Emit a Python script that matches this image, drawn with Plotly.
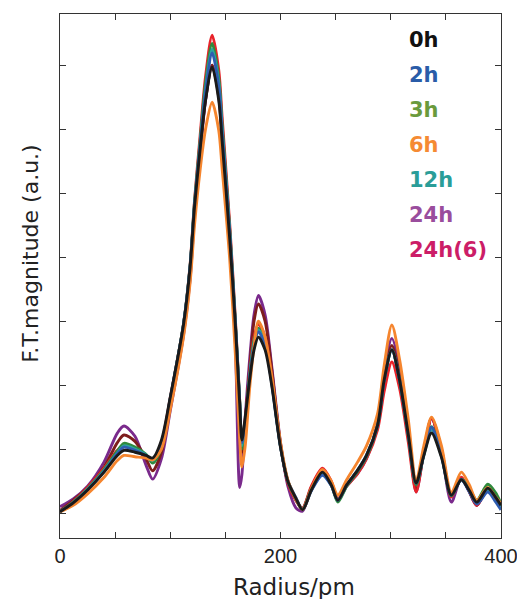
import plotly.graph_objects as go

radius = [0, 12, 25, 40, 52, 58, 68, 78, 84, 92, 100, 112, 118, 122, 127, 132, 138, 144, 147, 154,
          159, 163, 165, 168, 172, 176, 180, 186, 192, 200, 207, 214, 220, 228, 238, 246, 252, 260,
          270, 278, 288, 294, 301, 308, 316, 323, 330, 337, 346, 355, 364, 371, 378, 388, 395, 400]

ft_24h = [0.10, 0.22, 0.42, 0.80, 1.25, 1.36, 1.20, 0.75, 0.53, 0.85, 1.60, 2.78, 3.65, 4.65, 5.60, 6.45, 7.00, 6.55, 5.95, 4.40,
          2.70, 0.40, 0.60, 1.50, 2.40, 3.10, 3.40, 3.10, 2.30, 1.10, 0.40, 0.08, 0.03, 0.40, 0.66, 0.45, 0.20, 0.42,
          0.62, 0.85, 1.40, 2.20, 2.73, 2.30, 1.35, 0.33, 0.95, 1.48, 0.95, 0.17, 0.55, 0.35, 0.12, 0.38, 0.25, 0.12]

ft_24h_b = [0.04, 0.20, 0.40, 0.72, 1.10, 1.22, 1.12, 0.85, 0.66, 0.95, 1.75, 2.92, 3.82, 4.78, 5.68, 6.46, 7.00, 6.50, 5.88, 4.33,
            2.95, 1.55, 0.95, 1.40, 2.25, 3.00, 3.27, 3.00, 2.25, 1.08, 0.46, 0.20, 0.07, 0.40, 0.68, 0.48, 0.22, 0.44,
            0.65, 0.88, 1.36, 2.10, 2.62, 2.15, 1.20, 0.38, 0.95, 1.48, 1.00, 0.26, 0.55, 0.34, 0.12, 0.38, 0.24, 0.14]

ft_24h6 = [0.02, 0.18, 0.40, 0.70, 0.98, 1.06, 1.00, 0.90, 0.84, 1.10, 1.80, 2.95, 3.88, 4.88, 5.88, 6.82, 7.47, 6.92, 6.20, 4.50,
           3.05, 1.75, 1.05, 1.45, 2.20, 2.75, 2.95, 2.75, 2.10, 1.05, 0.45, 0.20, 0.08, 0.42, 0.70, 0.50, 0.22, 0.42,
           0.62, 0.85, 1.30, 1.90, 2.36, 1.95, 1.10, 0.33, 0.95, 1.48, 1.00, 0.25, 0.56, 0.35, 0.12, 0.38, 0.25, 0.15]

ft_3h = [0.02, 0.17, 0.38, 0.68, 0.97, 1.09, 1.03, 0.92, 0.78, 1.02, 1.78, 2.95, 3.86, 4.85, 5.80, 6.72, 7.34, 6.80, 6.08, 4.42,
         3.00, 1.75, 1.00, 1.40, 2.15, 2.70, 2.89, 2.68, 2.08, 1.05, 0.48, 0.22, 0.06, 0.38, 0.62, 0.44, 0.17, 0.42,
         0.65, 0.88, 1.37, 2.08, 2.55, 2.08, 1.20, 0.44, 0.92, 1.35, 0.92, 0.27, 0.53, 0.40, 0.20, 0.45, 0.32, 0.15]

ft_12h = [0.02, 0.16, 0.37, 0.66, 0.94, 1.05, 1.00, 0.91, 0.82, 1.06, 1.78, 2.94, 3.85, 4.82, 5.74, 6.62, 7.25, 6.72, 6.00, 4.38,
          2.98, 1.72, 1.05, 1.38, 2.12, 2.66, 2.86, 2.65, 2.05, 1.04, 0.48, 0.23, 0.05, 0.36, 0.60, 0.44, 0.20, 0.44,
          0.67, 0.90, 1.37, 2.08, 2.55, 2.08, 1.22, 0.46, 0.90, 1.30, 0.89, 0.28, 0.52, 0.36, 0.17, 0.36, 0.22, 0.08]

ft_2h = [0.02, 0.16, 0.36, 0.65, 0.93, 1.03, 0.98, 0.90, 0.84, 1.08, 1.79, 2.94, 3.85, 4.80, 5.72, 6.58, 7.19, 6.66, 5.96, 4.34,
         2.96, 1.72, 1.10, 1.35, 2.10, 2.62, 2.83, 2.63, 2.03, 1.04, 0.49, 0.24, 0.05, 0.35, 0.59, 0.43, 0.20, 0.44,
         0.67, 0.90, 1.37, 2.08, 2.55, 2.08, 1.22, 0.47, 0.92, 1.34, 0.90, 0.28, 0.52, 0.34, 0.14, 0.33, 0.18, 0.05]

ft_6h = [0.02, 0.12, 0.30, 0.56, 0.82, 0.90, 0.88, 0.86, 0.83, 1.00, 1.62, 2.75, 3.60, 4.50, 5.35, 6.00, 6.42, 5.98, 5.40, 3.95,
         2.50, 1.15, 0.72, 1.05, 1.95, 2.60, 3.00, 2.75, 2.15, 1.10, 0.50, 0.22, 0.05, 0.38, 0.68, 0.50, 0.28, 0.52,
         0.80, 1.05, 1.55, 2.30, 2.94, 2.40, 1.45, 0.50, 1.05, 1.50, 1.05, 0.32, 0.64, 0.45, 0.20, 0.40, 0.25, 0.15]

ft_0h = [0.02, 0.16, 0.36, 0.64, 0.90, 0.98, 0.95, 0.90, 0.86, 1.14, 1.81, 2.94, 3.84, 4.78, 5.67, 6.45, 6.97, 6.45, 5.83, 4.27,
         2.95, 1.70, 1.14, 1.50, 2.08, 2.55, 2.75, 2.55, 2.00, 1.03, 0.48, 0.23, 0.05, 0.36, 0.64, 0.44, 0.20, 0.44,
         0.67, 0.90, 1.37, 2.08, 2.55, 2.08, 1.22, 0.47, 0.90, 1.25, 0.87, 0.28, 0.52, 0.36, 0.17, 0.39, 0.25, 0.12]

labels = ["0h", "2h", "3h", "6h", "12h", "24h", "24h(6)"]
label_colors = ["#111111", "#2a5ca8", "#6a9a3c", "#f58a33", "#2a9d98", "#9a4d9d", "#cc1d67"]

x_ticks = [0, 50, 100, 150, 200, 250, 300, 350, 400]
x_tick_text = ["0", "", "", "", "200", "", "", "", "400"]
y_ticks = [0, 1, 2, 3, 4, 5, 6, 7]

series = [
    (ft_24h, "#7a2a8c", "24h"),
    (ft_24h_b, "#7d1d1d", "24h (b)"),
    (ft_24h6, "#e8232a", "24h(6)"),
    (ft_3h, "#2f8a3d", "3h"),
    (ft_12h, "#2aa39f", "12h"),
    (ft_2h, "#2e5caf", "2h"),
    (ft_6h, "#f5852e", "6h"),
    (ft_0h, "#1a1a1a", "0h"),
]

fig = go.Figure()
for vals, col, name in series:
    fig.add_trace(go.Scatter(x=radius, y=vals, mode="lines", name=name,
                             line=dict(color=col, width=2.9, shape="spline", smoothing=0.8),
                             showlegend=False))

FONT = "DejaVu Sans"
for i, (lab, col) in enumerate(zip(labels, label_colors)):
    fig.add_annotation(x=314.7, y=7.39 - i * 0.547, xref="x", yref="y", text=lab, showarrow=False,
                       xanchor="left", yanchor="middle",
                       font=dict(family=FONT, size=21, color=col, weight="bold"))

fig.add_annotation(x=0.5295, y=-0.064, xref="paper", yref="paper", text="Radius/pm", showarrow=False,
                   xanchor="center", yanchor="top", font=dict(family=FONT, size=23, color="#222"))
fig.add_annotation(x=-0.066, y=0.544, xref="paper", yref="paper", text="F.T.magnitude (a.u.)",
                   showarrow=False, textangle=-90, xanchor="center", yanchor="middle",
                   font=dict(family=FONT, size=22, color="#222"))

axis_common = dict(showline=True, linecolor="#333", linewidth=1.4, mirror="ticks", ticks="inside",
                   ticklen=6, tickwidth=1.3, tickcolor="#333", showgrid=False, zeroline=False,
                   automargin=False)
fig.update_xaxes(range=[0, 400], tickvals=x_ticks, ticktext=x_tick_text, ticklabeloverflow="allow",
                 tickfont=dict(family="Liberation Sans", size=20, color="#222"), **axis_common)
fig.update_yaxes(range=[-0.39, 7.8], tickvals=y_ticks, showticklabels=False, **axis_common)

fig.update_layout(width=517, height=599, margin=dict(l=60, r=16, t=14, b=61),
                  paper_bgcolor="white", plot_bgcolor="white", showlegend=False)

fig.write_html("out.html", config={"displayModeBar": False},
               post_script="document.body.style.margin='0px';")
